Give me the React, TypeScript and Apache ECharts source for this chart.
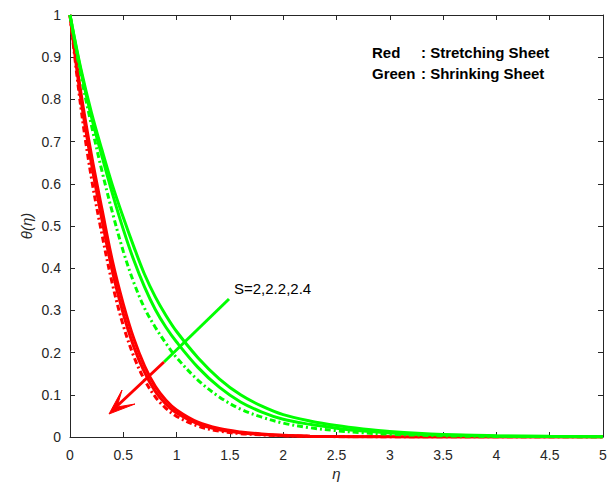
import { useEffect, useRef } from "react";
import * as echarts from "echarts";

const eta = [0, 0.1, 0.2, 0.3, 0.4, 0.5, 0.6, 0.7, 0.8, 0.9, 1.0, 1.2, 1.4, 1.6, 1.8, 2.0, 2.25, 2.5, 2.75, 3, 3.5, 4, 4.5, 5];

// Red : stretching sheet
const redS1 = [1, 0.82, 0.67, 0.54, 0.415, 0.315, 0.232, 0.168, 0.12, 0.087, 0.064, 0.035, 0.02, 0.012, 0.007, 0.004, 0.002, 0.001, 0.0006, 0.0003, 0.0001, 0, 0, 0];
const redS2 = [1, 0.805, 0.65, 0.515, 0.39, 0.292, 0.213, 0.153, 0.108, 0.078, 0.057, 0.031, 0.017, 0.01, 0.006, 0.0035, 0.0018, 0.0009, 0.0005, 0.0003, 0.0001, 0, 0, 0];
const redS3 = [1, 0.785, 0.615, 0.48, 0.36, 0.264, 0.19, 0.135, 0.095, 0.068, 0.049, 0.026, 0.014, 0.008, 0.005, 0.003, 0.0015, 0.0008, 0.0004, 0.0002, 0.0001, 0, 0, 0];

// Green : shrinking sheet
const greenS1 = [1, 0.875, 0.77, 0.68, 0.595, 0.52, 0.45, 0.385, 0.332, 0.288, 0.25, 0.188, 0.138, 0.1, 0.073, 0.053, 0.038, 0.027, 0.019, 0.013, 0.006, 0.003, 0.0015, 0.0008];
const greenS2 = [1, 0.87, 0.76, 0.665, 0.575, 0.492, 0.418, 0.355, 0.302, 0.26, 0.225, 0.165, 0.118, 0.083, 0.059, 0.042, 0.03, 0.021, 0.014, 0.0095, 0.0045, 0.002, 0.001, 0.0005];
const greenS3 = [1, 0.86, 0.74, 0.63, 0.53, 0.44, 0.365, 0.305, 0.26, 0.222, 0.188, 0.135, 0.095, 0.066, 0.047, 0.033, 0.022, 0.015, 0.01, 0.0065, 0.0028, 0.0012, 0.0005, 0.0002];

const axisColor = "#262626";
const font = "Liberation Sans, Arial, sans-serif";

export default function App() {
  const ref = useRef<HTMLDivElement>(null);
  useEffect(() => {
    const chart = echarts.init(ref.current!, null, { renderer: "svg" });
    const pair = (ys: number[]) => eta.map((x, i) => [x, ys[i]]);
    const dashDot = [6, 3, 2, 3];
    const mk = (name: string, ys: number[], color: string, dashed: boolean) => ({
      name,
      type: "line",
      data: pair(ys),
      smooth: 0.35,
      showSymbol: false,
      symbol: "none",
      lineStyle: { color, width: 3, type: dashed ? dashDot : "solid" },
      xAxisIndex: 0,
      yAxisIndex: 0,
    });
    const axisLineStyle = { lineStyle: { color: axisColor, width: 1 } };
    chart.setOption({
      animation: false,
      backgroundColor: "#ffffff",
      grid: { left: 70, right: 12, top: 15, bottom: 52, containLabel: false },
      xAxis: [
        {
          type: "value",
          min: 0,
          max: 5,
          interval: 0.5,
          position: "bottom",
          name: "η",
          nameLocation: "middle",
          nameGap: 29,
          nameMoveOverlap: false,
          nameTextStyle: { fontFamily: font, fontStyle: "italic", fontSize: 15, color: axisColor },
          axisLine: { show: true, onZero: false, ...axisLineStyle },
          axisTick: { show: true, inside: true, length: 5, lineStyle: { color: axisColor } },
          axisLabel: { fontFamily: font, fontSize: 14, color: axisColor, margin: 11 },
          splitLine: { show: false },
        },
        {
          type: "value",
          min: 0,
          max: 5,
          interval: 0.5,
          position: "top",
          axisLine: { show: true, onZero: false, ...axisLineStyle },
          axisTick: { show: true, inside: true, length: 5, lineStyle: { color: axisColor } },
          axisLabel: { show: false },
          splitLine: { show: false },
        },
      ],
      yAxis: [
        {
          type: "value",
          min: 0,
          max: 1,
          interval: 0.1,
          position: "left",
          name: "θ(η)",
          nameLocation: "middle",
          nameGap: 36,
          nameMoveOverlap: false,
          nameRotate: 90,
          nameTextStyle: { fontFamily: font, fontStyle: "italic", fontSize: 15, color: axisColor },
          axisLine: { show: true, onZero: false, ...axisLineStyle },
          axisTick: { show: true, inside: true, length: 5, lineStyle: { color: axisColor } },
          axisLabel: { fontFamily: font, fontSize: 14, color: axisColor, margin: 9 },
          splitLine: { show: false },
        },
        {
          type: "value",
          min: 0,
          max: 1,
          interval: 0.1,
          position: "right",
          axisLine: { show: true, onZero: false, ...axisLineStyle },
          axisTick: { show: true, inside: true, length: 5, lineStyle: { color: axisColor } },
          axisLabel: { show: false },
          splitLine: { show: false },
        },
      ],
      series: [
        mk("Stretching S=2", redS1, "#ff0000", false),
        mk("Stretching S=2.2", redS2, "#ff0000", false),
        mk("Stretching S=2.4", redS3, "#ff0000", true),
        mk("Shrinking S=2", greenS1, "#00ff00", false),
        mk("Shrinking S=2.2", greenS2, "#00ff00", false),
        mk("Shrinking S=2.4", greenS3, "#00ff00", true),
      ],
      graphic: [
        { type: "text", left: 372, top: 45, style: { text: "Red", font: `bold 15px ${font}`, fill: "#000" } },
        { type: "text", left: 421, top: 45, style: { text: ": Stretching Sheet", font: `bold 15px ${font}`, fill: "#000" } },
        { type: "text", left: 372, top: 66, style: { text: "Green", font: `bold 15px ${font}`, fill: "#000" } },
        { type: "text", left: 421, top: 66, style: { text: ": Shrinking Sheet", font: `bold 15px ${font}`, fill: "#000" } },
        { type: "text", left: 234, top: 281, style: { text: "S=2,2.2,2.4", font: `15px ${font}`, fill: "#000" } },
        { type: "line", shape: { x1: 229, y1: 299, x2: 164, y2: 362 }, style: { stroke: "#00ff00", lineWidth: 3 } },
        { type: "line", shape: { x1: 164, y1: 362, x2: 116, y2: 407 }, style: { stroke: "#ff0000", lineWidth: 3 } },
        { type: "polygon", shape: { points: [[109, 414], [122, 390], [117, 407], [135, 404]] }, style: { fill: "#ff0000", stroke: "#ff0000", lineWidth: 1 } },
      ],
    });
    return () => chart.dispose();
  }, []);
  return <div ref={ref} style={{ position: "fixed", left: 0, top: 0, width: 615, height: 489, background: "#fff" }} />;
}
